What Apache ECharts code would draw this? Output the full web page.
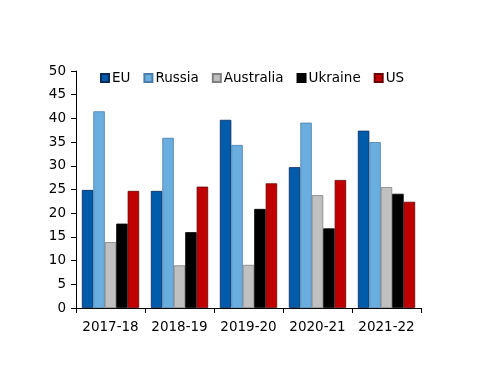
<!DOCTYPE html>
<html><head><meta charset="utf-8">
<script src="https://cdn.jsdelivr.net/npm/echarts@6/dist/echarts.min.js"></script>
<style>html,body{margin:0;padding:0;background:#fff}#c{width:500px;height:386px}</style>
</head><body><div id="c"></div>
<script>
var categories = ['2017-18','2018-19','2019-20','2020-21','2021-22'];
var seriesNames = ['EU','Russia','Australia','Ukraine','US'];
var EU = [24.9, 24.7, 39.7, 29.7, 37.4];
var Russia = [41.5, 35.9, 34.4, 39.1, 35.0];
var Australia = [13.9, 9.0, 9.1, 23.8, 25.5];
var Ukraine = [17.8, 16.0, 20.9, 16.8, 24.1];
var US = [24.7, 25.6, 26.3, 27.0, 22.4];
var yTicks = [0,5,10,15,20,25,30,35,40,45,50];
var colors = ['#005BAA','#6AAEE0','#C0C0C0','#000000','#C00000'];
var borders = ['#0A2A5A','#4A7EA8','#808080','#000000','#6A0000'];
var data = [EU, Russia, Australia, Ukraine, US];
var font = 'DejaVu Sans';
var chart = echarts.init(document.getElementById('c'));
chart.setOption({
  animation:false,
  textStyle:{fontFamily:font},
  legend:{top:71,left:100,padding:0,itemWidth:8,itemHeight:8,itemGap:13,icon:'rect',
    textStyle:{fontSize:13.5,color:'#000',fontFamily:font,padding:[0,0,0,-2]},
    data:seriesNames},
  grid:{left:76,right:79,top:71,bottom:78},
  xAxis:{type:'category',data:categories,
    axisLine:{lineStyle:{color:'#000'}},
    axisTick:{show:true,alignWithLabel:false,length:5,lineStyle:{color:'#000'}},
    axisLabel:{fontSize:13.5,color:'#000',margin:12,interval:0,fontFamily:font}},
  yAxis:{type:'value',min:0,max:50,interval:5,
    axisLine:{show:true,lineStyle:{color:'#000'}},
    axisTick:{show:true,length:5,lineStyle:{color:'#000'}},
    splitLine:{show:false},
    axisLabel:{fontSize:13.5,color:'#000',margin:10,fontFamily:font}},
  series: seriesNames.map(function(n,i){return {
    name:n,type:'bar',data:data[i],barGap:'0%',barCategoryGap:'17%',
    itemStyle:{color:colors[i],borderColor:borders[i],borderWidth:0.8}
  };})
});
</script></body></html>
